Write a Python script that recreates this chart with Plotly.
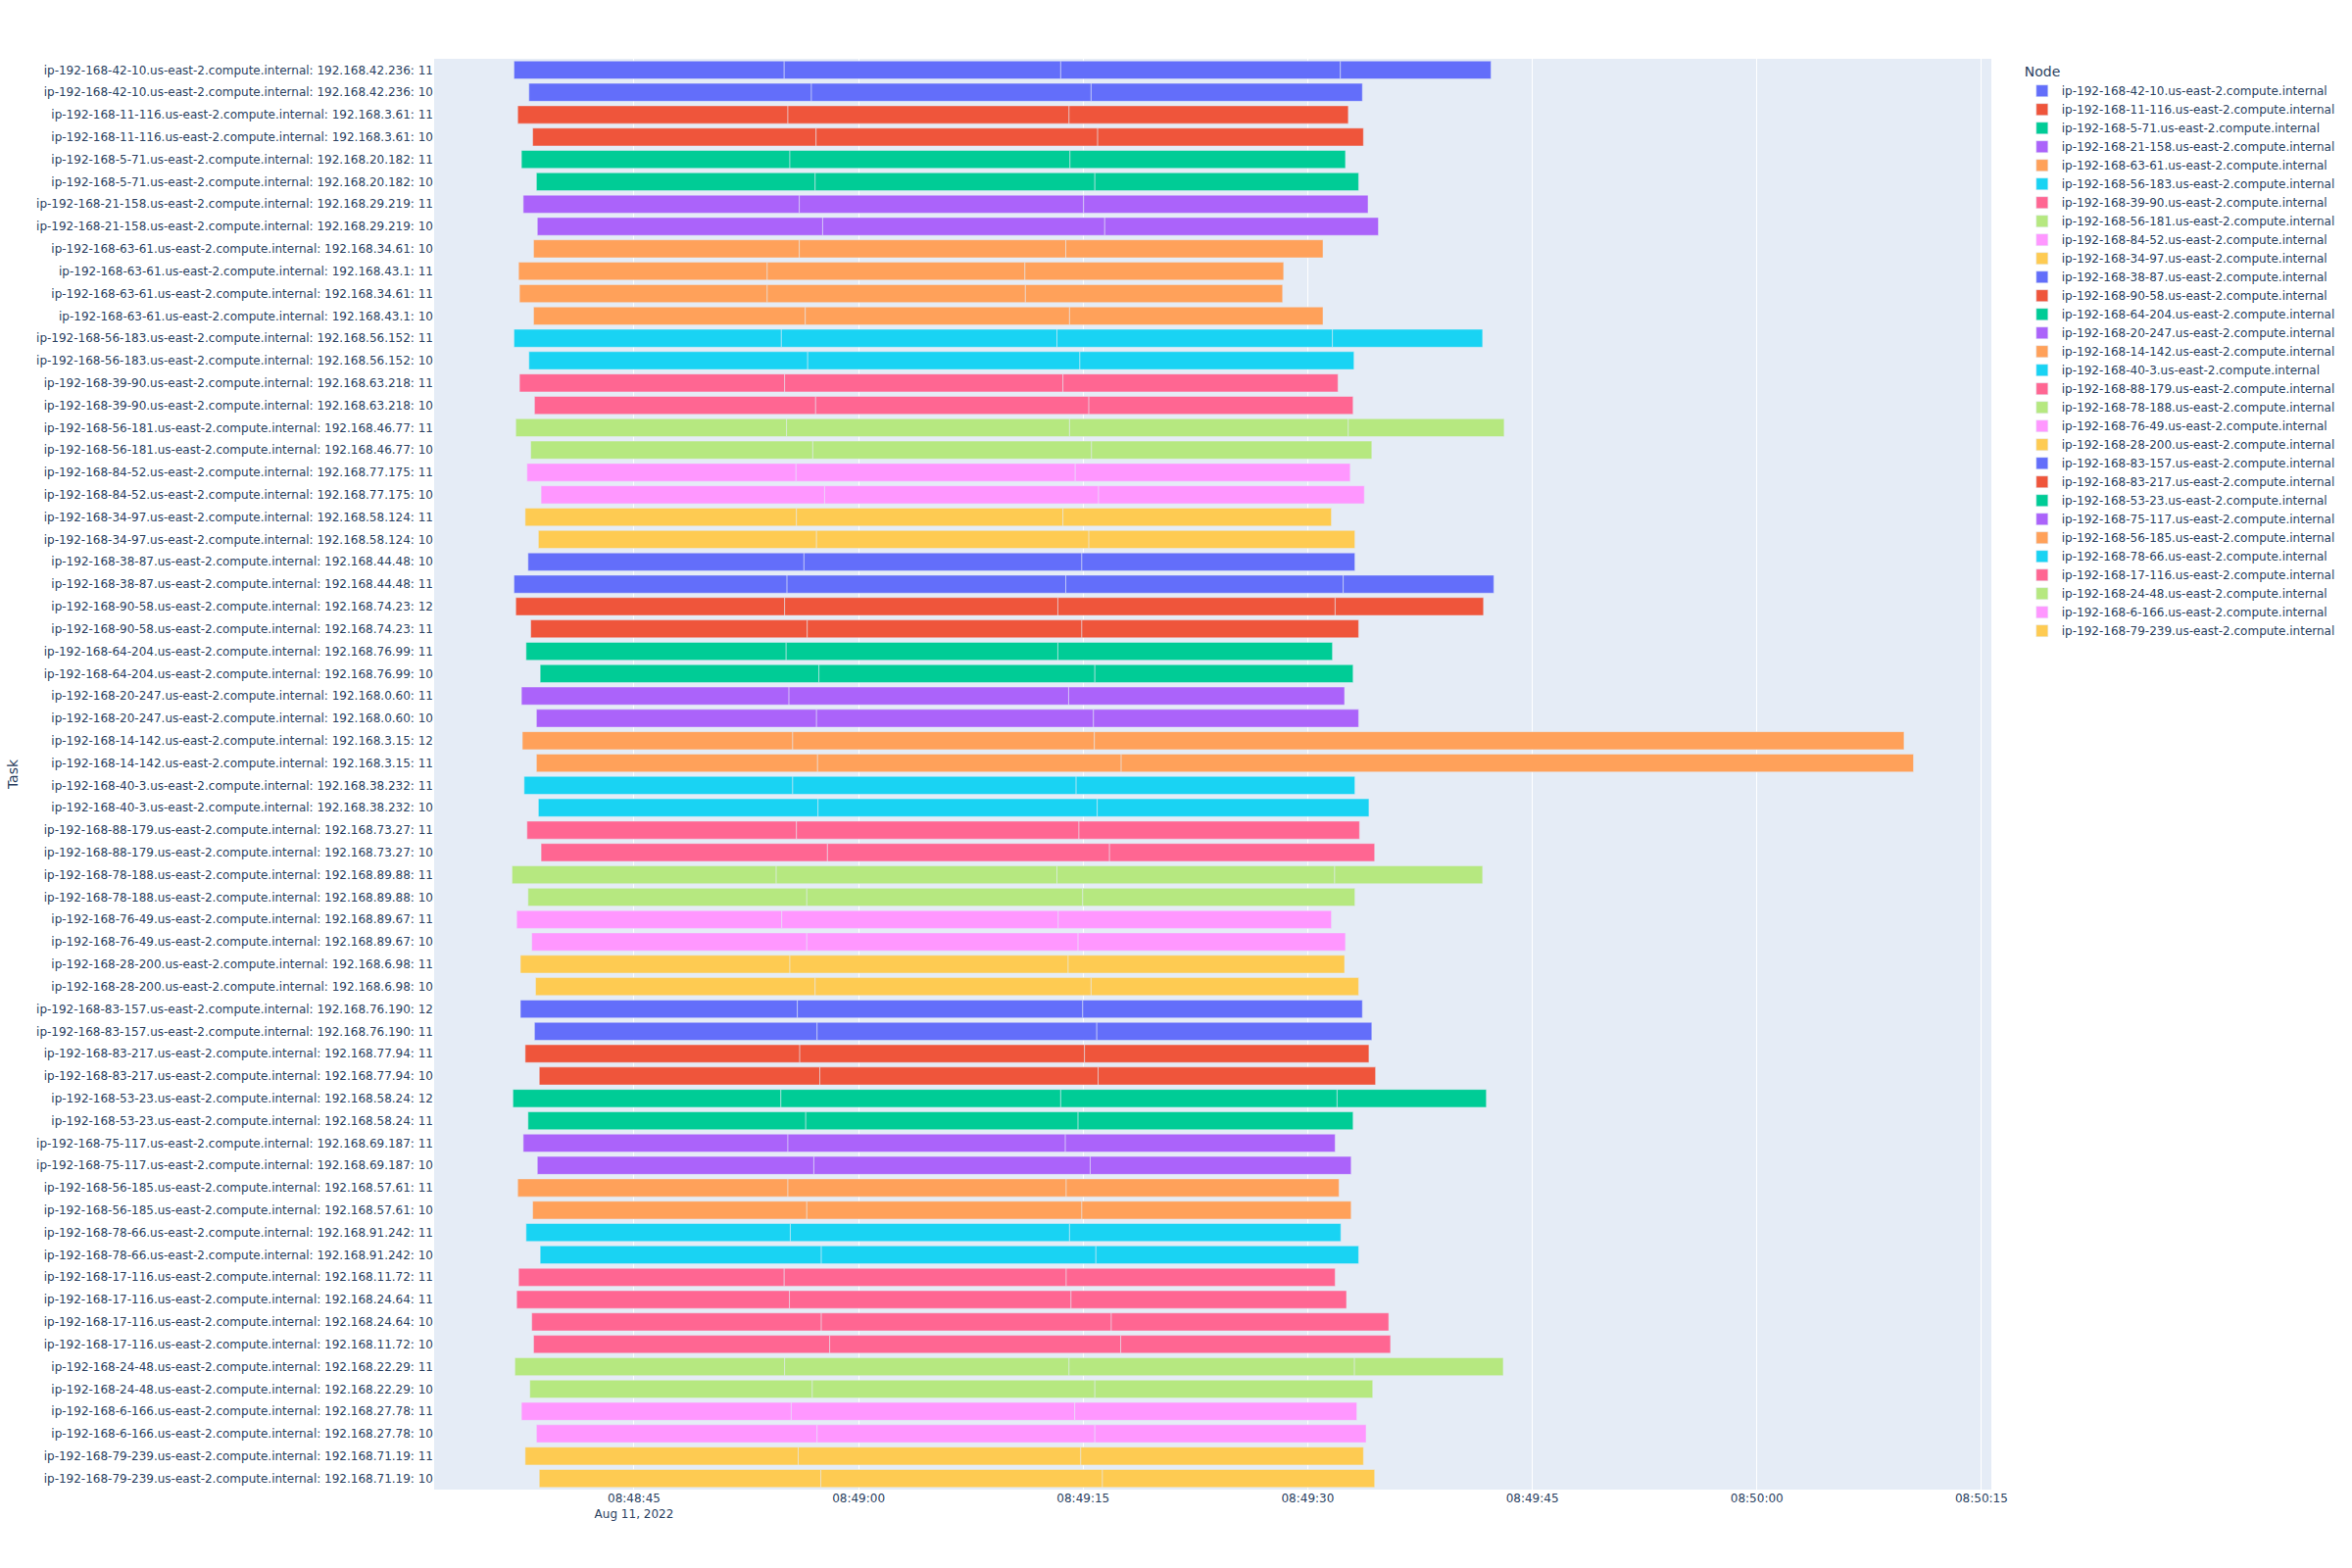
import pandas as pd
import plotly.express as px

BASE = pd.Timestamp("2022-08-11 08:48:00")

tasks = [
    "ip-192-168-42-10.us-east-2.compute.internal: 192.168.42.236: 11",
    "ip-192-168-42-10.us-east-2.compute.internal: 192.168.42.236: 10",
    "ip-192-168-11-116.us-east-2.compute.internal: 192.168.3.61: 11",
    "ip-192-168-11-116.us-east-2.compute.internal: 192.168.3.61: 10",
    "ip-192-168-5-71.us-east-2.compute.internal: 192.168.20.182: 11",
    "ip-192-168-5-71.us-east-2.compute.internal: 192.168.20.182: 10",
    "ip-192-168-21-158.us-east-2.compute.internal: 192.168.29.219: 11",
    "ip-192-168-21-158.us-east-2.compute.internal: 192.168.29.219: 10",
    "ip-192-168-63-61.us-east-2.compute.internal: 192.168.34.61: 10",
    "ip-192-168-63-61.us-east-2.compute.internal: 192.168.43.1: 11",
    "ip-192-168-63-61.us-east-2.compute.internal: 192.168.34.61: 11",
    "ip-192-168-63-61.us-east-2.compute.internal: 192.168.43.1: 10",
    "ip-192-168-56-183.us-east-2.compute.internal: 192.168.56.152: 11",
    "ip-192-168-56-183.us-east-2.compute.internal: 192.168.56.152: 10",
    "ip-192-168-39-90.us-east-2.compute.internal: 192.168.63.218: 11",
    "ip-192-168-39-90.us-east-2.compute.internal: 192.168.63.218: 10",
    "ip-192-168-56-181.us-east-2.compute.internal: 192.168.46.77: 11",
    "ip-192-168-56-181.us-east-2.compute.internal: 192.168.46.77: 10",
    "ip-192-168-84-52.us-east-2.compute.internal: 192.168.77.175: 11",
    "ip-192-168-84-52.us-east-2.compute.internal: 192.168.77.175: 10",
    "ip-192-168-34-97.us-east-2.compute.internal: 192.168.58.124: 11",
    "ip-192-168-34-97.us-east-2.compute.internal: 192.168.58.124: 10",
    "ip-192-168-38-87.us-east-2.compute.internal: 192.168.44.48: 10",
    "ip-192-168-38-87.us-east-2.compute.internal: 192.168.44.48: 11",
    "ip-192-168-90-58.us-east-2.compute.internal: 192.168.74.23: 12",
    "ip-192-168-90-58.us-east-2.compute.internal: 192.168.74.23: 11",
    "ip-192-168-64-204.us-east-2.compute.internal: 192.168.76.99: 11",
    "ip-192-168-64-204.us-east-2.compute.internal: 192.168.76.99: 10",
    "ip-192-168-20-247.us-east-2.compute.internal: 192.168.0.60: 11",
    "ip-192-168-20-247.us-east-2.compute.internal: 192.168.0.60: 10",
    "ip-192-168-14-142.us-east-2.compute.internal: 192.168.3.15: 12",
    "ip-192-168-14-142.us-east-2.compute.internal: 192.168.3.15: 11",
    "ip-192-168-40-3.us-east-2.compute.internal: 192.168.38.232: 11",
    "ip-192-168-40-3.us-east-2.compute.internal: 192.168.38.232: 10",
    "ip-192-168-88-179.us-east-2.compute.internal: 192.168.73.27: 11",
    "ip-192-168-88-179.us-east-2.compute.internal: 192.168.73.27: 10",
    "ip-192-168-78-188.us-east-2.compute.internal: 192.168.89.88: 11",
    "ip-192-168-78-188.us-east-2.compute.internal: 192.168.89.88: 10",
    "ip-192-168-76-49.us-east-2.compute.internal: 192.168.89.67: 11",
    "ip-192-168-76-49.us-east-2.compute.internal: 192.168.89.67: 10",
    "ip-192-168-28-200.us-east-2.compute.internal: 192.168.6.98: 11",
    "ip-192-168-28-200.us-east-2.compute.internal: 192.168.6.98: 10",
    "ip-192-168-83-157.us-east-2.compute.internal: 192.168.76.190: 12",
    "ip-192-168-83-157.us-east-2.compute.internal: 192.168.76.190: 11",
    "ip-192-168-83-217.us-east-2.compute.internal: 192.168.77.94: 11",
    "ip-192-168-83-217.us-east-2.compute.internal: 192.168.77.94: 10",
    "ip-192-168-53-23.us-east-2.compute.internal: 192.168.58.24: 12",
    "ip-192-168-53-23.us-east-2.compute.internal: 192.168.58.24: 11",
    "ip-192-168-75-117.us-east-2.compute.internal: 192.168.69.187: 11",
    "ip-192-168-75-117.us-east-2.compute.internal: 192.168.69.187: 10",
    "ip-192-168-56-185.us-east-2.compute.internal: 192.168.57.61: 11",
    "ip-192-168-56-185.us-east-2.compute.internal: 192.168.57.61: 10",
    "ip-192-168-78-66.us-east-2.compute.internal: 192.168.91.242: 11",
    "ip-192-168-78-66.us-east-2.compute.internal: 192.168.91.242: 10",
    "ip-192-168-17-116.us-east-2.compute.internal: 192.168.11.72: 11",
    "ip-192-168-17-116.us-east-2.compute.internal: 192.168.24.64: 11",
    "ip-192-168-17-116.us-east-2.compute.internal: 192.168.24.64: 10",
    "ip-192-168-17-116.us-east-2.compute.internal: 192.168.11.72: 10",
    "ip-192-168-24-48.us-east-2.compute.internal: 192.168.22.29: 11",
    "ip-192-168-24-48.us-east-2.compute.internal: 192.168.22.29: 10",
    "ip-192-168-6-166.us-east-2.compute.internal: 192.168.27.78: 11",
    "ip-192-168-6-166.us-east-2.compute.internal: 192.168.27.78: 10",
    "ip-192-168-79-239.us-east-2.compute.internal: 192.168.71.19: 11",
    "ip-192-168-79-239.us-east-2.compute.internal: 192.168.71.19: 10",
]

# segment boundaries for each task, in seconds after 08:48:00
boundaries = [
    [36.98, 55.03, 73.50, 92.18, 102.24],
    [37.98, 56.85, 75.53, 93.65],
    [37.23, 55.28, 74.06, 92.71],
    [38.23, 57.16, 75.97, 93.72],
    [37.48, 55.41, 74.12, 92.52],
    [38.48, 57.10, 75.78, 93.40],
    [37.60, 56.04, 75.03, 94.03],
    [38.54, 57.60, 76.44, 94.72],
    [38.29, 56.04, 73.84, 91.02],
    [37.29, 53.90, 71.11, 88.39],
    [37.35, 53.90, 71.14, 88.32],
    [38.29, 56.44, 74.09, 91.02],
    [36.98, 54.84, 73.25, 91.65, 101.68],
    [37.98, 56.60, 74.78, 93.09],
    [37.35, 55.06, 73.65, 92.02],
    [38.35, 57.13, 75.38, 93.03],
    [37.10, 55.19, 74.09, 92.71, 103.12],
    [38.10, 56.94, 75.56, 94.28],
    [37.85, 55.82, 74.47, 92.84],
    [38.79, 57.73, 76.03, 93.78],
    [37.73, 55.85, 73.65, 91.58],
    [38.61, 57.19, 75.38, 93.15],
    [37.92, 56.35, 74.91, 93.15],
    [36.98, 55.22, 73.84, 92.37, 102.43],
    [37.10, 55.06, 73.31, 91.83, 101.74],
    [38.10, 56.57, 74.91, 93.40],
    [37.79, 55.16, 73.31, 91.65],
    [38.73, 57.35, 75.78, 93.03],
    [37.48, 55.35, 74.03, 92.46],
    [38.48, 57.19, 75.69, 93.40],
    [37.54, 55.60, 75.75, 129.83],
    [38.48, 57.26, 77.54, 130.46],
    [37.66, 55.60, 74.53, 93.15],
    [38.61, 57.29, 75.94, 94.09],
    [37.85, 55.85, 74.72, 93.46],
    [38.79, 57.92, 76.76, 94.47],
    [36.85, 54.50, 73.25, 91.80, 101.68],
    [37.92, 56.54, 74.97, 93.15],
    [37.16, 54.87, 73.34, 91.58],
    [38.17, 56.54, 74.66, 92.52],
    [37.41, 55.41, 74.00, 92.46],
    [38.42, 57.10, 75.53, 93.40],
    [37.41, 55.91, 74.97, 93.65],
    [38.35, 57.23, 75.91, 94.28],
    [37.73, 56.07, 75.09, 94.09],
    [38.67, 57.41, 76.00, 94.53],
    [36.91, 54.81, 73.50, 91.96, 101.93],
    [37.92, 56.47, 74.66, 93.03],
    [37.60, 55.28, 73.81, 91.83],
    [38.54, 57.01, 75.47, 92.90],
    [37.23, 55.28, 73.87, 92.09],
    [38.23, 56.54, 74.91, 92.90],
    [37.79, 55.44, 74.09, 92.21],
    [38.73, 57.51, 75.85, 93.40],
    [37.29, 55.03, 73.87, 91.83],
    [37.16, 55.38, 74.19, 92.59],
    [38.17, 57.51, 76.88, 95.41],
    [38.29, 58.07, 77.51, 95.53],
    [37.04, 55.06, 74.06, 93.12, 103.06],
    [38.04, 56.91, 75.78, 94.34],
    [37.48, 55.50, 74.44, 93.28],
    [38.48, 57.23, 75.78, 93.90],
    [37.73, 55.97, 74.84, 93.72],
    [38.67, 57.48, 76.29, 94.47],
]

rows = []
for task, bnds in zip(tasks, boundaries):
    node = task.split(":")[0]
    for a, b in zip(bnds[:-1], bnds[1:]):
        rows.append({
            "Task": task,
            "Node": node,
            "Start": BASE + pd.Timedelta(seconds=a),
            "Finish": BASE + pd.Timedelta(seconds=b),
        })
df = pd.DataFrame(rows)

fig = px.timeline(df, x_start="Start", x_end="Finish", y="Task", color="Node")
fig.update_yaxes(autorange="reversed")
fig.update_layout(
    width=2400,
    height=1600,
    font=dict(family="DejaVu Sans"),
    margin=dict(l=80, r=80, t=60, b=80),
)
fig.write_html("out.html")
